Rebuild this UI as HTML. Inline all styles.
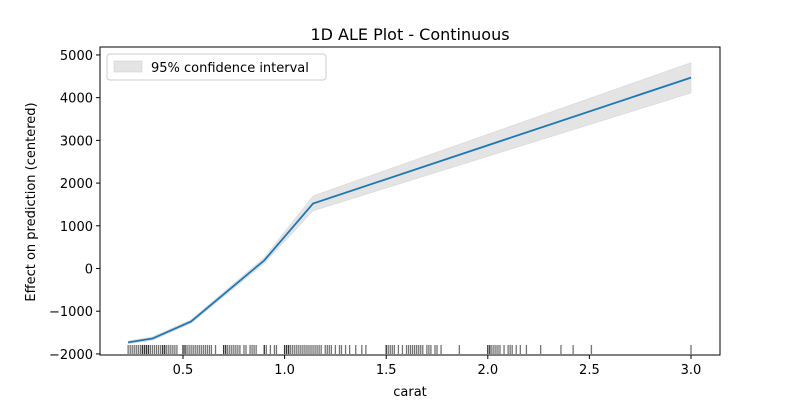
<!DOCTYPE html>
<html><head><meta charset="utf-8"><style>
body{margin:0;background:#fff;font-family:"Liberation Sans","DejaVu Sans",sans-serif}
svg text{font-family:"DejaVu Sans","Liberation Sans",sans-serif;font-size:13px;fill:#000}
</style></head><body>
<svg id="c" width="800" height="400" xmlns="http://www.w3.org/2000/svg">
<rect width="800" height="400" fill="#fff"/>
<text x="410" y="40" text-anchor="middle" style="font-size:16px">1D ALE Plot - Continuous</text>
<g id="plot"></g>
<text x="410" y="396" text-anchor="middle">carat</text>
<text transform="translate(35,202) rotate(-90)" text-anchor="middle">Effect on prediction (centered)</text>
<g>
<rect x="107" y="54" width="219" height="26" rx="3" fill="#fff" stroke="#ccc"/>
<rect x="114" y="61" width="28" height="11" fill="#e4e4e4" stroke="#ccc" stroke-width="0.5"/>
<text x="151" y="72">95% confidence interval</text>
</g>
</svg>
<script>
const xs=[0.23,0.35,0.54,0.9,1.14,3.0];
const ale=[-1730,-1640,-1240,190,1520,4470];
const lower=[-1760,-1680,-1280,120,1350,4110];
const upper=[-1700,-1600,-1200,260,1700,4820];
const xTicks=[0.5,1.0,1.5,2.0,2.5,3.0];
const xTickLabels=["0.5","1.0","1.5","2.0","2.5","3.0"];
const yTicks=[-2000,-1000,0,1000,2000,3000,4000,5000];
const yTickLabels=["\u22122000","\u22121000","0","1000","2000","3000","4000","5000"];
const rug=[0.23,0.24,0.25,0.26,0.27,0.28,0.29,0.3,0.3,0.31,0.31,0.32,0.32,0.33,0.33,0.34,0.35,0.36,0.37,0.38,0.39,0.4,0.4,0.41,0.41,0.42,0.43,0.44,0.45,0.46,0.47,0.5,0.5,0.51,0.51,0.52,0.53,0.54,0.55,0.56,0.57,0.58,0.59,0.6,0.61,0.62,0.63,0.64,0.66,0.7,0.7,0.71,0.71,0.72,0.73,0.74,0.75,0.76,0.77,0.78,0.8,0.81,0.83,0.84,0.85,0.86,0.9,0.9,0.91,0.93,0.95,0.96,1.0,1.0,1.01,1.01,1.02,1.02,1.03,1.04,1.05,1.06,1.07,1.08,1.09,1.1,1.11,1.12,1.13,1.14,1.15,1.16,1.17,1.18,1.2,1.21,1.22,1.23,1.25,1.27,1.28,1.3,1.32,1.35,1.38,1.4,1.5,1.5,1.51,1.52,1.53,1.54,1.56,1.58,1.6,1.61,1.62,1.63,1.64,1.65,1.66,1.67,1.68,1.7,1.71,1.72,1.74,1.75,1.77,1.86,2.0,2.0,2.01,2.01,2.02,2.03,2.04,2.05,2.06,2.08,2.1,2.11,2.12,2.14,2.16,2.19,2.26,2.36,2.42,2.51,3.0];
const L=100,R=720,T=47,B=355;
const X=v=>183+(v-0.5)*203.2;
const Y=v=>268.5-v*0.04271;
const g=document.getElementById('plot');
const NS='http://www.w3.org/2000/svg';
function mk(t,a){const e=document.createElementNS(NS,t);for(const k in a)e.setAttribute(k,a[k]);g.appendChild(e);return e;}
let d='M'+xs.map((x,i)=>X(x)+','+Y(upper[i])).join('L')+'L'+xs.map((x,i)=>X(x)+','+Y(lower[i])).reverse().join('L')+'Z';
const band=mk('path',{d:d,fill:'#e4e4e4',stroke:'#d0d0d0','stroke-width':0.5});


rug.forEach(v=>{const l=mk('line',{x1:X(v),x2:X(v),y1:345,y2:354,stroke:'#000','stroke-opacity':0.55,'stroke-width':1.3});

});
const line=mk('path',{d:'M'+xs.map((x,i)=>X(x)+','+Y(ale[i])).join('L'),fill:'none',stroke:'#1f77b4','stroke-width':1.8});


const fr=mk('rect',{x:L,y:T,width:R-L,height:B-T,fill:'none',stroke:'#000','stroke-width':1});


xTicks.forEach((v,i)=>{const t=mk('line',{x1:X(v),x2:X(v),y1:B,y2:B+4,stroke:'#000'});


const tx=mk('text',{x:X(v),y:B+19,'text-anchor':'middle'});tx.textContent=xTickLabels[i];

});
yTicks.forEach((v,i)=>{const t=mk('line',{x1:L-4,x2:L,y1:Y(v),y2:Y(v),stroke:'#000'});


const tx=mk('text',{x:L-7,y:Y(v)+5,'text-anchor':'end'});tx.textContent=yTickLabels[i];

});
</script>
</body></html>
